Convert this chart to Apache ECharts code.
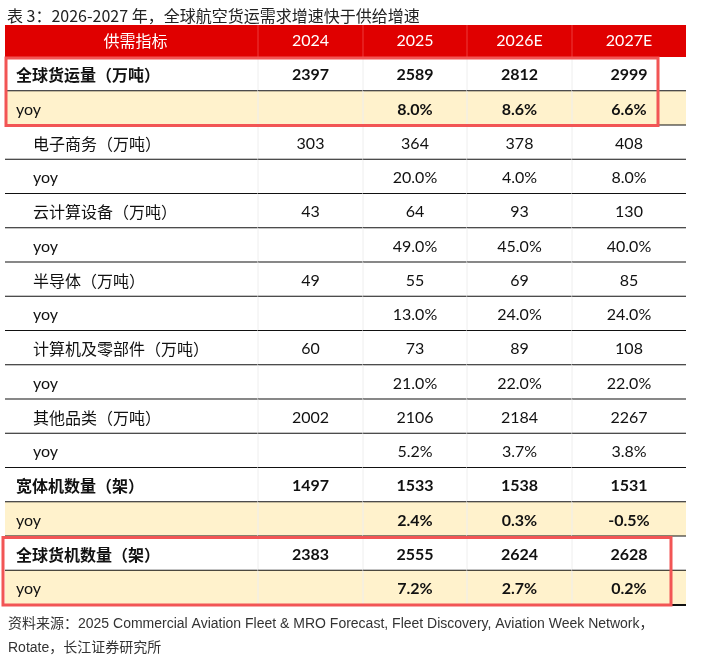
<!DOCTYPE html>
<html>
<head>
<meta charset="utf-8">
<script src="https://cdn.jsdelivr.net/npm/echarts@6/dist/echarts.min.js"></script>
<style>
  html, body { margin: 0; padding: 0; background: #fff; }
  #main { width: 708px; height: 663px; }
</style>
</head>
<body>
<div id="main"></div>
<script>
// table data
var headers = ['供需指标', '2024', '2025', '2026E', '2027E'];
var rowLabels = ['全球货运量（万吨）', 'yoy', '电子商务（万吨）', 'yoy', '云计算设备（万吨）', 'yoy',
  '半导体（万吨）', 'yoy', '计算机及零部件（万吨）', 'yoy', '其他品类（万吨）', 'yoy',
  '宽体机数量（架）', 'yoy', '全球货机数量（架）', 'yoy'];
var v2024 = [2397, null, 303, null, 43, null, 49, null, 60, null, 2002, null, 1497, null, 2383, null];
var v2025 = [2589, 8.0, 364, 20.0, 64, 49.0, 55, 13.0, 73, 21.0, 2106, 5.2, 1533, 2.4, 2555, 7.2];
var v2026 = [2812, 8.6, 378, 4.0, 93, 45.0, 69, 24.0, 89, 22.0, 2184, 3.7, 1538, 0.3, 2624, 2.7];
var v2027 = [2999, 6.6, 408, 8.0, 130, 40.0, 85, 24.0, 108, 22.0, 2267, 3.8, 1531, -0.5, 2628, 0.2];
var boldRows = [0, 1, 12, 13, 14, 15];
var yellowRows = [1, 13, 15];
var boxedRows = [[0, 1], [14, 15]];

var titleText = '表 3：2026-2027 年，全球航空货运需求增速快于供给增速';
var sourceText = '资料来源：2025 Commercial Aviation Fleet & MRO Forecast, Fleet Discovery, Aviation Week Network，\nRotate，长江证券研究所';

// layout (axis units)
var colEdges = [0, 253, 358, 462, 567, 681];
var headerTop = -32 / 34.25;
var boxX = [[1, 653], [-2, 666]];

var valueCols = [v2024, v2025, v2026, v2027];
var numFont = 'Lato, "Noto Sans CJK SC", sans-serif';
var cjkFont = '"Noto Sans CJK SC", sans-serif';

function fmt(r, v) {
  if (v === null || v === undefined) return '';
  return rowLabels[r] === 'yoy' ? v.toFixed(1) + '%' : String(v);
}

// cells: [col, row]
var cells = [];
for (var r = 0; r < rowLabels.length; r++) {
  for (var c = 0; c < headers.length; c++) cells.push([c, r]);
}
var headCells = headers.map(function (h, i) { return [i, headerTop]; });

function rect(api, x0, x1, y0, y1) {
  var p0 = api.coord([x0, y0]);
  var p1 = api.coord([x1, y1]);
  return { x: p0[0], y: p0[1], width: p1[0] - p0[0], height: p1[1] - p0[1] };
}

var chart = echarts.init(document.getElementById('main'));
chart.setOption({
  animation: false,
  title: [
    { text: titleText, left: 2, top: 3,
      textStyle: { fontSize: 16, fontWeight: 'normal', color: '#222', fontFamily: cjkFont } },
    { text: sourceText, left: 3, top: 607,
      textStyle: { fontSize: 14, fontWeight: 'normal', color: '#333', lineHeight: 24,
        fontFamily: '"Liberation Sans", "Noto Sans CJK SC", sans-serif' } }
  ],
  grid: { left: 5, right: 22, top: 25, bottom: 58 },
  xAxis: { type: 'value', min: 0, max: 681, show: false },
  yAxis: { type: 'value', min: headerTop, max: 16, inverse: true, show: false },
  series: [
    {
      // header
      type: 'custom',
      data: headCells,
      renderItem: function (params, api) {
        var c = headCells[params.dataIndex][0];
        var b = rect(api, colEdges[c], colEdges[c + 1], headerTop, 0);
        var children = [
          { type: 'rect', shape: b, style: { fill: '#E00000' } },
          { type: 'text', style: { text: headers[c], x: b.x + b.width / 2 + (c === 0 ? 4 : 0), y: b.y + b.height / 2,
            align: 'center', verticalAlign: 'middle', fill: '#fff', fontSize: 16,
            fontFamily: c === 0 ? cjkFont : numFont } }
        ];
        if (c > 0) {
          children.push({ type: 'line', shape: { x1: b.x, y1: b.y, x2: b.x, y2: b.y + b.height },
            style: { stroke: '#EC3A3A', lineWidth: 1 } });
        }
        return { type: 'group', children: children };
      }
    },
    {
      // body cells
      type: 'custom',
      data: cells,
      renderItem: function (params, api) {
        var c = cells[params.dataIndex][0];
        var r = cells[params.dataIndex][1];
        var b = rect(api, colEdges[c], colEdges[c + 1], r, r + 1);
        var bold = boldRows.indexOf(r) >= 0;
        var fill = yellowRows.indexOf(r) >= 0 ? '#FFF2CC' : '#fff';
        var children = [{ type: 'rect', shape: b, style: { fill: fill } }];
        var txt, tx, align, fam, weight = bold ? 'bold' : 'normal';
        if (c === 0) {
          txt = rowLabels[r];
          tx = b.x + (bold ? 11 : 28);
          align = 'left';
          fam = txt === 'yoy' ? numFont : cjkFont;
          if (txt === 'yoy') weight = 'normal';
        } else {
          txt = fmt(r, valueCols[c - 1][r]);
          tx = b.x + b.width / 2;
          align = 'center';
          fam = numFont;
          children.push({ type: 'line', shape: { x1: b.x, y1: b.y, x2: b.x, y2: b.y + b.height },
            style: { stroke: '#EEEEEE', lineWidth: 1 } });
        }
        children.push({ type: 'text', style: { text: txt, x: tx, y: b.y + b.height / 2 + 1,
          align: align, verticalAlign: 'middle', fill: '#111', fontSize: 16,
          fontWeight: weight, fontFamily: fam } });
        children.push({ type: 'line', shape: { x1: b.x, y1: b.y + b.height, x2: b.x + b.width, y2: b.y + b.height },
          style: { stroke: '#111', lineWidth: 2 } });
        return { type: 'group', children: children };
      }
    },
    {
      // highlight boxes
      type: 'custom',
      data: boxedRows,
      z: 10,
      renderItem: function (params, api) {
        var rr = boxedRows[params.dataIndex];
        var xs = boxX[params.dataIndex];
        var b = rect(api, xs[0], xs[1], rr[0], rr[1] + 1);
        return { type: 'rect', shape: { x: b.x, y: b.y + 1, width: b.width, height: b.height - 1 },
          style: { fill: null, stroke: '#F25555', lineWidth: 3 } };
      }
    }
  ]
});
</script>
</body>
</html>
